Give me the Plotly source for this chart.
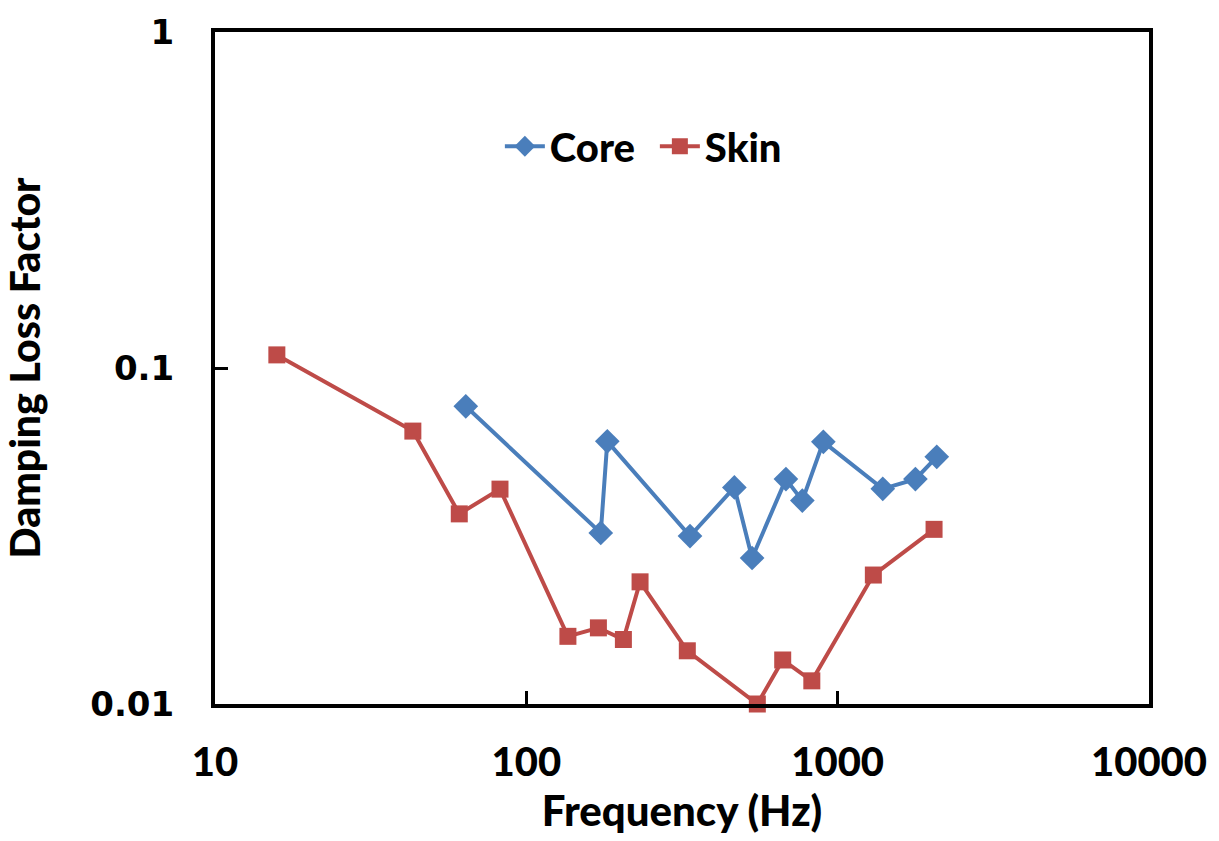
import plotly.graph_objects as go

core_freq = [63.9, 173.4, 182, 335.5, 465.8, 531, 682, 770, 899.5, 1396, 1777, 2081]
core_loss = [0.0769, 0.0323, 0.0605, 0.0316, 0.0441, 0.0272, 0.0467, 0.0403, 0.0603, 0.0437, 0.0467, 0.0544]

skin_freq = [15.8, 43.2, 60.9, 82.3, 136, 170.4, 205, 231.9, 328.9, 552, 666, 826, 1302, 2040]
skin_loss = [0.1094, 0.0649, 0.0368, 0.0436, 0.0159, 0.01685, 0.01556, 0.0231, 0.0144, 0.0100, 0.01352, 0.01172, 0.0242, 0.0331]

x_ticks = [10, 100, 1000, 10000]
x_labels = ["10", "100", "1000", "10000"]
y_ticks = [0.01, 0.1, 1]
y_labels = ["0.01", "0.1", "1"]

fig = go.Figure()
fig.add_trace(go.Scatter(
    x=core_freq, y=core_loss, name="Core", mode="lines+markers",
    line=dict(color="#4A7EBB", width=4),
    marker=dict(symbol="diamond", size=19, color="#4A7EBB"),
    cliponaxis=False,
))
fig.add_trace(go.Scatter(
    x=skin_freq, y=skin_loss, name="Skin", mode="lines+markers",
    line=dict(color="#BE4B48", width=4),
    marker=dict(symbol="square", size=17, color="#BE4B48"),
    cliponaxis=False,
))

fig.update_layout(
    width=1219, height=841,
    margin=dict(l=215, r=69, t=25, b=137),
    paper_bgcolor="white", plot_bgcolor="white",
    showlegend=True,
    legend=dict(
        orientation="h", x=0.305, y=0.83, xanchor="left", yanchor="middle",
        font=dict(family="Lato", size=40, color="black", weight=900),
        bgcolor="rgba(0,0,0,0)", itemwidth=40, tracegroupgap=0,
        entrywidth=100, entrywidthmode="pixels",
    ),
    xaxis=dict(
        type="log", range=[1, 4],
        tickvals=x_ticks, ticktext=x_labels,
        ticks="inside", ticklen=13, tickwidth=3, tickcolor="black",
        showline=True, linecolor="black", linewidth=4, mirror=True,
        showgrid=False, zeroline=False,
        tickfont=dict(family="Lato", size=40, color="black", weight=900),
        ticklabelstandoff=20,
        title=dict(text="Frequency (Hz)", standoff=10,
                   font=dict(family="Lato", size=42, color="black", weight=900)),
    ),
    yaxis=dict(
        type="log", range=[-2, 0],
        tickvals=y_ticks, ticktext=y_labels,
        ticks="inside", ticklen=13, tickwidth=3, tickcolor="black",
        showline=True, linecolor="black", linewidth=4, mirror=True,
        showgrid=False, zeroline=False,
        tickfont=dict(family="DejaVu Sans", size=34, color="black", weight="bold"),
        ticklabelstandoff=30,
        title=dict(text="Damping Loss Factor", standoff=40,
                   font=dict(family="Lato", size=41, color="black", weight=900)),
    ),
)

fig.write_html("out.html")
